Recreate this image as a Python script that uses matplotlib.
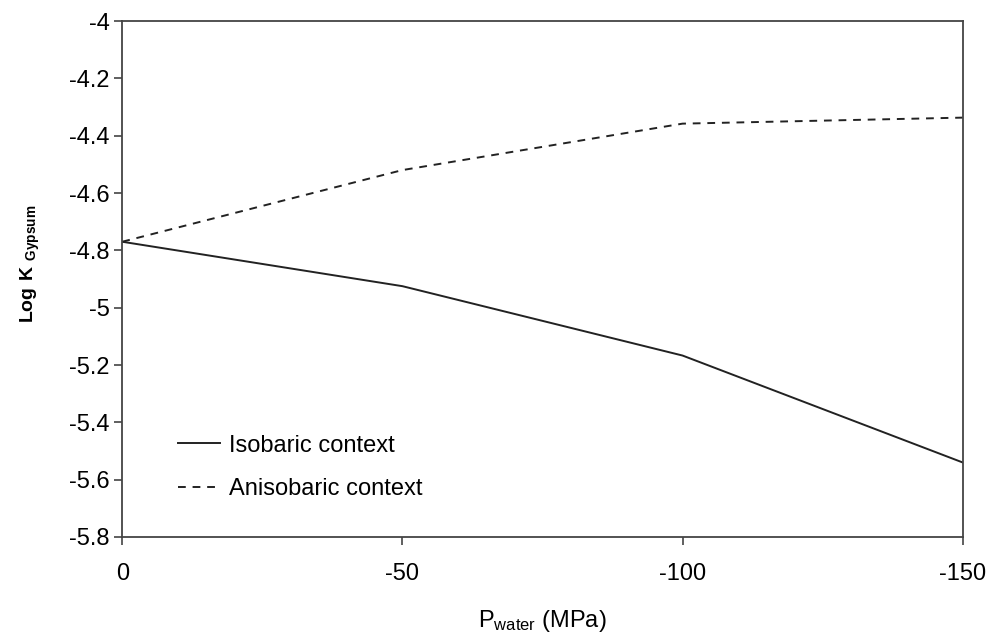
import matplotlib
matplotlib.use("Agg")
import matplotlib.pyplot as plt

plt.rcParams['font.family'] = ['Liberation Sans', 'DejaVu Sans']
plt.rcParams['mathtext.fontset'] = 'custom'
plt.rcParams['mathtext.rm'] = 'Liberation Sans'
plt.rcParams['mathtext.bf'] = 'Liberation Sans:bold'

# pressure of water (MPa)
p_water = [0, -50, -100, -150]
# log K gypsum
iso = [-4.77, -4.925, -5.167, -5.54]
aniso = [-4.77, -4.52, -4.358, -4.337]

xticks = [0, -50, -100, -150]
yticks = [-4, -4.2, -4.4, -4.6, -4.8, -5, -5.2, -5.4, -5.6, -5.8]
ytick_labels = ['-4', '-4.2', '-4.4', '-4.6', '-4.8', '-5', '-5.2', '-5.4', '-5.6', '-5.8']

fig = plt.figure(figsize=(9.94, 6.37), dpi=100)
ax = fig.add_axes([0.123, 0.157, 0.8455, 0.81])

ax.plot(p_water, iso, color='#222222', lw=1.4, label='Isobaric context')
ax.plot(p_water, aniso, color='#222222', lw=1.4, ls=(0, (4, 3.5)), label='Anisobaric context')

ax.set_xlim(0, -150)
ax.set_ylim(-5.8, -4)
ax.set_xticks(xticks)
ax.set_xticklabels([str(t) for t in xticks])
ax.set_yticks(yticks)
ax.set_yticklabels(ytick_labels)

for s in ax.spines.values():
    s.set_color('#444444')
    s.set_linewidth(1.3)
ax.tick_params(direction='out', length=5.5, width=1.2, color='#444444',
               labelsize=17)
ax.tick_params(axis='y', pad=3.5)
ax.tick_params(axis='x', pad=13)

ax.set_xlabel(r'$\mathregular{P_{water}}$ (MPa)', fontsize=17)
ax.xaxis.set_label_coords(0.5, -0.137)
ax.set_ylabel(r'$\mathbf{Log\ K\ }_{\mathbf{Gypsum}}$', fontsize=14)
ax.yaxis.set_label_coords(-0.095, 0.53)

ax.legend(loc='center left', bbox_to_anchor=(0.052, 0.135), frameon=False,
          borderpad=0, fontsize=17, handlelength=1.8, handletextpad=0.35,
          labelspacing=0.9)

fig.savefig('out.png', dpi=100)
